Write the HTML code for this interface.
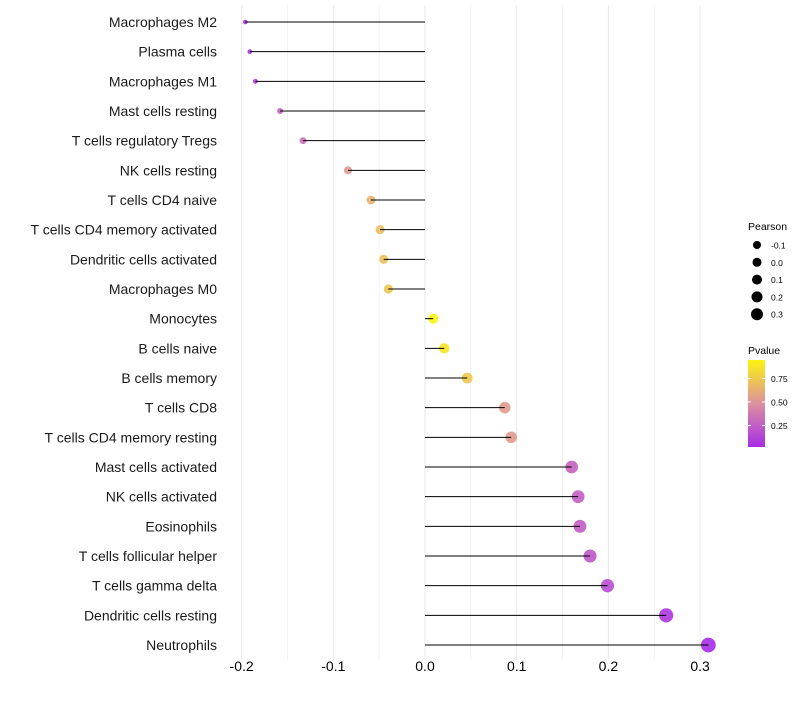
<!DOCTYPE html>
<html><head><meta charset="utf-8"><style>
body{margin:0;background:#fff;font-family:"Liberation Sans",sans-serif}
svg text{font-family:"Liberation Sans",sans-serif}
</style></head><body>
<svg id="c" width="800" height="700"></svg>
<script>
const categories=["Macrophages M2","Plasma cells","Macrophages M1","Mast cells resting","T cells regulatory  Tregs","NK cells resting","T cells CD4 naive","T cells CD4 memory activated","Dendritic cells activated","Macrophages M0","Monocytes","B cells naive","B cells memory","T cells CD8","T cells CD4 memory resting","Mast cells activated","NK cells activated","Eosinophils","T cells follicular helper","T cells gamma delta","Dendritic cells resting","Neutrophils"];
const pearson=[-0.196,-0.191,-0.185,-0.158,-0.133,-0.084,-0.059,-0.049,-0.045,-0.040,0.009,0.021,0.046,0.087,0.094,0.160,0.167,0.169,0.180,0.199,0.263,0.309];
const pvalue=[0.05,0.1,0.15,0.3,0.35,0.55,0.65,0.7,0.72,0.75,0.95,0.88,0.75,0.55,0.55,0.3,0.28,0.27,0.25,0.2,0.1,0.05];
const xTicks=[-0.2,-0.1,0.0,0.1,0.2,0.3];
const xTickLabels=["-0.2","-0.1","0.0","0.1","0.2","0.3"];
const sizeLegend=[-0.1,0.0,0.1,0.2,0.3];
const colorLegend=[0.25,0.5,0.75];

const svg=document.getElementById('c');const NS='http://www.w3.org/2000/svg';
function el(t,a,p){const e=document.createElementNS(NS,t);for(const k in a)e.setAttribute(k,a[k]);(p||svg).appendChild(e);return e;}
const x=v=>425+v*917;
const y=i=>22+i*29.667;
const r=v=>Math.sqrt(4+92*(v+0.196))+0.3;
const rl=v=>4+5*(v+0.1);
function lerp(a,b,t){return a.map((c,i)=>Math.round(c+(b[i]-c)*t));}
function col(p){const s0=[160,32,240],s1=[221,144,160],s2=[255,255,0];
 const c=p<0.5?lerp(s0,s1,p/0.5):lerp(s1,s2,(p-0.5)/0.5);return `rgb(${c})`;}

for(let v=-0.2;v<=0.301;v+=0.05){
 const g=el('line',{x1:x(v),x2:x(v),y1:5,y2:660,stroke:'#ebebeb','stroke-width':Math.abs(Math.round(v*100))%10==0?1.1:0.6});
 
 
}
xTicks.forEach((v,i)=>{const t=el('text',{x:x(v),y:671,'text-anchor':'middle','font-size':14,fill:'#000'});t.textContent=xTickLabels[i];
 
 });
categories.forEach((c,i)=>{
 const t=el('text',{x:217,y:y(i)+5,'text-anchor':'end','font-size':14,fill:'#1a1a1a'});t.textContent=c;
 
 
 const ci=el('circle',{cx:x(pearson[i]),cy:y(i),r:r(pearson[i]),fill:col(pvalue[i]),'fill-opacity':0.9});
 
 
 const l=el('line',{x1:x(0),x2:x(pearson[i]),y1:y(i),y2:y(i),stroke:'#000','stroke-width':1});
 
 
});
let t=el('text',{x:748,y:230,'font-size':10.5,fill:'#000'});t.textContent='Pearson';


sizeLegend.forEach((v,i)=>{const cy=245+i*17.3;
 const c=el('circle',{cx:757,cy:cy,r:rl(v),fill:'#000'});
 
 
 const tt=el('text',{x:771,y:cy+3.5,'font-size':8.5,fill:'#000'});tt.textContent=v.toFixed(1);
 
 });
t=el('text',{x:748,y:354,'font-size':10.5,fill:'#000'});t.textContent='Pvalue';


const defs=el('defs',{});const lg=el('linearGradient',{id:'g',x1:0,y1:1,x2:0,y2:0},defs);
[[0,0.06],[0.5,0.5],[1,0.95]].forEach(([o,p])=>el('stop',{offset:o,'stop-color':col(p)},lg));
const bar=el('rect',{x:748,y:360,width:17,height:87,fill:'url(#g)'});


const py=p=>449-p*94;
colorLegend.forEach(p=>{el('line',{x1:748,x2:751,y1:py(p),y2:py(p),stroke:'#fff'});el('line',{x1:762,x2:765,y1:py(p),y2:py(p),stroke:'#fff'});
 const tt=el('text',{x:771,y:py(p)+3.5,'font-size':8.5,fill:'#000'});tt.textContent=p.toFixed(2);
 
 });
</script>
</body></html>
